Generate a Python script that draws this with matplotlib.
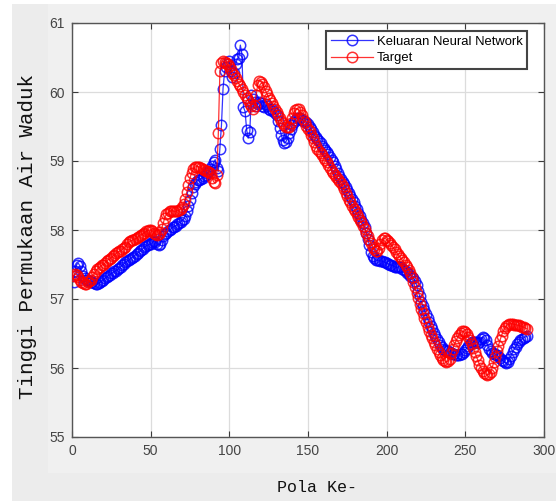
import matplotlib
matplotlib.use("Agg")
import matplotlib.pyplot as plt
from matplotlib.patches import Rectangle

# ---------------- data ----------------
target = [
    57.33, 57.36, 57.35, 57.32, 57.28, 57.25, 57.23, 57.22, 57.22, 57.24,
    57.26, 57.28, 57.32, 57.36, 57.40, 57.43, 57.45, 57.47, 57.49, 57.50,
    57.52, 57.55, 57.57, 57.58, 57.60, 57.62, 57.64, 57.66, 57.68, 57.69,
    57.70, 57.72, 57.74, 57.76, 57.79, 57.82, 57.84, 57.85, 57.86, 57.87,
    57.88, 57.90, 57.92, 57.93, 57.94, 57.96, 57.98, 57.99, 58.00, 58.00,
    57.98, 57.96, 57.94, 57.93, 57.94, 57.97, 58.02, 58.10, 58.18, 58.23,
    58.25, 58.27, 58.28, 58.28, 58.27, 58.27, 58.28, 58.29, 58.30, 58.33,
    58.38, 58.45, 58.55, 58.65, 58.75, 58.83, 58.88, 58.91, 58.92, 58.92,
    58.91, 58.90, 58.88, 58.87, 58.86, 58.86, 58.84, 58.82, 58.76, 58.70,
    58.68, 58.80, 59.40, 60.30, 60.42, 60.45, 60.44, 60.42, 60.40, 60.37,
    60.33, 60.28, 60.24, 60.20, 60.16, 60.12, 60.08, 60.04, 60.00, 59.96,
    59.92, 59.88, 59.83, 59.79, 59.76, 59.80, 59.95, 60.10, 60.16, 60.15,
    60.12, 60.07, 60.02, 59.97, 59.92, 59.88, 59.84, 59.80, 59.76, 59.71,
    59.66, 59.62, 59.58, 59.55, 59.52, 59.50, 59.49, 59.50, 59.55, 59.63,
    59.70, 59.74, 59.76, 59.75, 59.71, 59.66, 59.61, 59.56, 59.51, 59.47,
    59.43, 59.38, 59.33, 59.27, 59.22, 59.18, 59.14, 59.11, 59.08, 59.05,
    59.02, 58.98, 58.94, 58.90, 58.86, 58.83, 58.80, 58.77, 58.74, 58.71,
    58.68, 58.64, 58.59, 58.54, 58.49, 58.44, 58.40, 58.35, 58.31, 58.27,
    58.23, 58.19, 58.15, 58.11, 58.06, 58.01, 57.96, 57.91, 57.86, 57.81,
    57.76, 57.72, 57.70, 57.70, 57.74, 57.80, 57.85, 57.88, 57.88, 57.86,
    57.84, 57.81, 57.78, 57.75, 57.72, 57.68, 57.65, 57.62, 57.59, 57.56,
    57.53, 57.50, 57.46, 57.42, 57.38, 57.32, 57.25, 57.17, 57.09, 57.01,
    56.93, 56.86, 56.79, 56.72, 56.66, 56.60, 56.54, 56.48, 56.43, 56.38,
    56.33, 56.28, 56.23, 56.19, 56.15, 56.12, 56.10, 56.09, 56.10, 56.13,
    56.22, 56.28, 56.34, 56.39, 56.44, 56.48, 56.51, 56.53, 56.53, 56.52,
    56.49, 56.45, 56.40, 56.35, 56.29, 56.23, 56.17, 56.11, 56.05, 56.00,
    55.96, 55.93, 55.91, 55.90, 55.91, 55.94, 56.00, 56.08, 56.16, 56.24,
    56.32, 56.40, 56.47, 56.53, 56.58, 56.61, 56.63, 56.64, 56.64, 56.64,
    56.63, 56.63, 56.62, 56.62, 56.61, 56.60, 56.59, 56.58, 56.57,
]

network_output = [
    57.25, 57.40, 57.50, 57.52, 57.48, 57.40, 57.34, 57.30, 57.28, 57.27,
    57.26, 57.25, 57.24, 57.23, 57.22, 57.22, 57.23, 57.24, 57.26, 57.28,
    57.30, 57.32, 57.34, 57.35, 57.37, 57.38, 57.40, 57.41, 57.43, 57.45,
    57.47, 57.49, 57.51, 57.53, 57.55, 57.56, 57.58, 57.60, 57.61, 57.63,
    57.65, 57.67, 57.69, 57.71, 57.73, 57.75, 57.77, 57.78, 57.79, 57.80,
    57.82, 57.84, 57.83, 57.80, 57.78, 57.80, 57.86, 57.91, 57.94, 57.96,
    57.98, 58.00, 58.02, 58.04, 58.05, 58.06, 58.08, 58.10, 58.12, 58.14,
    58.16, 58.20, 58.27, 58.35, 58.44, 58.54, 58.62, 58.67, 58.70, 58.72,
    58.73, 58.74, 58.76, 58.78, 58.80, 58.82, 58.85, 58.88, 58.93, 58.98,
    59.02, 58.90, 58.85, 59.18, 59.52, 60.05, 60.30, 60.36, 60.40, 60.45,
    60.30, 60.22, 60.28, 60.40, 60.48, 60.50, 60.68, 60.55, 59.78, 59.72,
    59.45, 59.33, 59.42, 59.96, 59.90, 59.85, 59.80, 59.82, 59.86, 59.84,
    59.80, 59.78, 59.82, 59.80, 59.76, 59.74, 59.76, 59.73, 59.70, 59.66,
    59.58, 59.48, 59.38, 59.30, 59.26, 59.28, 59.33, 59.40, 59.46, 59.52,
    59.57, 59.60, 59.62, 59.63, 59.62, 59.60, 59.58, 59.57, 59.56, 59.54,
    59.50, 59.46, 59.42, 59.38, 59.35, 59.32, 59.29, 59.26, 59.22, 59.19,
    59.16, 59.13, 59.10, 59.06, 59.02, 58.98, 58.93, 58.88, 58.83, 58.78,
    58.74, 58.70, 58.66, 58.62, 58.58, 58.54, 58.50, 58.45, 58.40, 58.35,
    58.30, 58.25, 58.20, 58.15, 58.10, 58.04, 57.96, 57.87, 57.78, 57.68,
    57.62, 57.59, 57.57, 57.56, 57.56, 57.55, 57.55, 57.54, 57.53, 57.52,
    57.51, 57.50, 57.49, 57.48, 57.47, 57.46, 57.46, 57.47, 57.46, 57.44,
    57.42, 57.40, 57.38, 57.36, 57.34, 57.32, 57.30, 57.26, 57.20, 57.12,
    57.04, 56.96, 56.90, 56.84, 56.78, 56.72, 56.66, 56.61, 56.56, 56.51,
    56.46, 56.42, 56.38, 56.34, 56.30, 56.28, 56.26, 56.25, 56.24, 56.23,
    56.22, 56.21, 56.20, 56.19, 56.19, 56.19, 56.20, 56.21, 56.23, 56.26,
    56.29, 56.32, 56.35, 56.37, 56.38, 56.38, 56.37, 56.36, 56.38, 56.42,
    56.45, 56.44, 56.40, 56.34, 56.28, 56.24, 56.22, 56.21, 56.20, 56.19,
    56.17, 56.14, 56.12, 56.10, 56.08, 56.07, 56.09, 56.13, 56.18, 56.23,
    56.27, 56.31, 56.35, 56.38, 56.40, 56.42, 56.44, 56.45, 56.46,
]

pattern_index = list(range(1, len(target) + 1))
x_ticks = [0, 50, 100, 150, 200, 250, 300]
y_ticks = [55, 56, 57, 58, 59, 60, 61]
series_labels = ["Keluaran Neural Network", "Target"]
x_label = "Pola Ke-"
y_label = "Tinggi Permukaan Air Waduk"

# ---------------- figure ----------------
W, H = 556, 501
fig = plt.figure(figsize=(W / 100, H / 100), dpi=100, facecolor="#ececec")

# background panels (MATLAB-window look)
fig.patches.append(Rectangle((48 / W, (H - 473) / H), 1 - 48 / W, 473 / H,
                             transform=fig.transFigure, facecolor="#f0f0f0",
                             edgecolor="none", zorder=-5))
fig.patches.append(Rectangle((0, 0), 12 / W, 1, transform=fig.transFigure,
                             facecolor="white", edgecolor="none", zorder=-4))
fig.patches.append(Rectangle((0, 1 - 4 / H), 1, 4 / H, transform=fig.transFigure,
                             facecolor="white", edgecolor="none", zorder=-4))

ax = fig.add_axes([72 / W, (H - 437) / H, (544 - 72) / W, (437 - 23) / H])
ax.set_facecolor("white")

ax.plot(pattern_index, network_output, color="#0000ff", lw=0.9, marker="o",
        markersize=7.5, markerfacecolor="none", markeredgewidth=1.1,
        alpha=0.8, label=series_labels[0], zorder=3)
ax.plot(pattern_index, target, color="#ff0000", lw=0.9, marker="o",
        markersize=7.5, markerfacecolor="none", markeredgewidth=1.1,
        alpha=0.8, label=series_labels[1], zorder=4)

ax.set_xlim(0, 300)
ax.set_ylim(55, 61)
ax.set_xticks(x_ticks)
ax.set_yticks(y_ticks)

tick_font = {"family": ["Liberation Sans", "DejaVu Sans"], "size": 10}
ax.set_xticklabels([str(t) for t in x_ticks], fontdict=tick_font, color="#444444")
ax.set_yticklabels([str(t) for t in y_ticks], fontdict=tick_font, color="#444444")
ax.tick_params(direction="in", top=True, right=True, length=4, width=0.8,
               color="#3a3a3a", pad=5)

ax.grid(True, color="#dcdcdc", lw=0.9)
ax.set_axisbelow(True)
for sp in ax.spines.values():
    sp.set_color("#555555")
    sp.set_linewidth(1.0)

ax.set_xlabel(x_label, family=["Liberation Mono", "DejaVu Sans Mono"],
              fontsize=12, color="#111111")
ax.xaxis.set_label_coords(0.52, -0.103)
ax.set_ylabel(y_label, family=["Liberation Mono", "DejaVu Sans Mono"],
              fontsize=15, color="#111111")
ax.yaxis.set_label_coords(-0.075, 0.485)

leg = ax.legend(loc="upper right", bbox_to_anchor=(0.964, 0.981),
                borderaxespad=0, fancybox=False, framealpha=1,
                edgecolor="#444444", prop={"family": "Liberation Sans", "size": 9.4},
                handlelength=3.2, handletextpad=0.3, borderpad=0.35,
                labelspacing=0.35)
leg.get_frame().set_linewidth(1.5)

fig.savefig("out.png", dpi=100, facecolor=fig.get_facecolor())
